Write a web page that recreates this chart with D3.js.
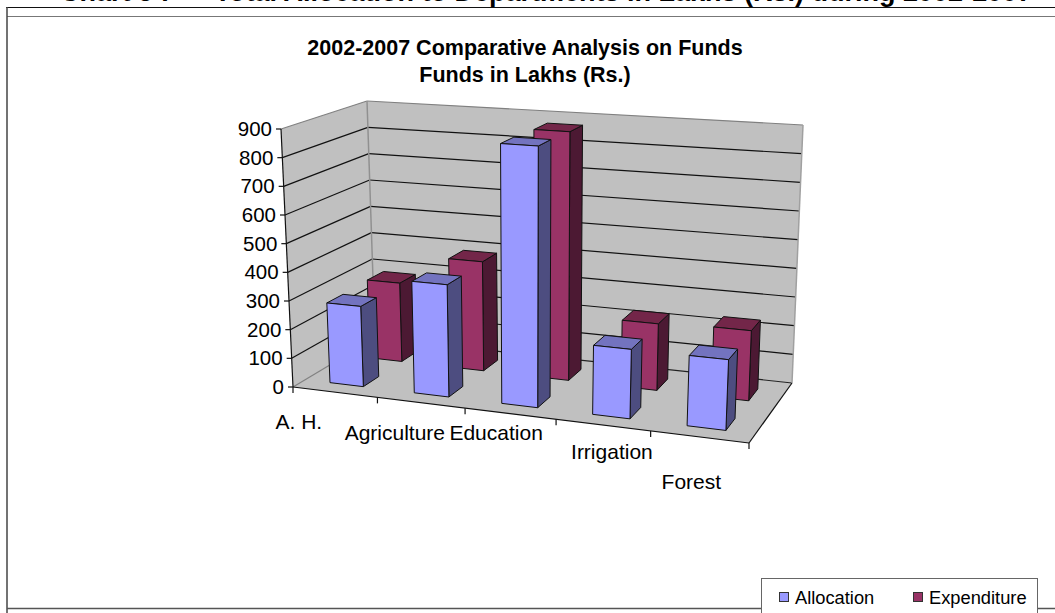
<!DOCTYPE html>
<html><head><meta charset="utf-8">
<script src="https://cdn.jsdelivr.net/npm/d3@7"></script>
<style>html,body{margin:0;padding:0;background:#fff;overflow:hidden}svg{display:block}text{font-family:"Liberation Sans",Arial,sans-serif;fill:#000}</style>
</head><body><svg id="c" width="1055" height="613"></svg>
<script>
const categories = ["A. H.", "Agriculture", "Education", "Irrigation", "Forest"];
const seriesNames = ["Allocation", "Expenditure"];
const allocation = [280, 385, 882, 230, 230];
const expenditure = [285, 390, 875, 230, 238];
const valueTicks = [0,100,200,300,400,500,600,700,800,900];
const titleLines = ["2002-2007 Comparative Analysis on Funds", "Funds in Lakhs (Rs.)"];
const pageHeadingParts = ["Chart 5 :", "Total Allocation to Departments in Lakhs (Rs.) during 2002-2007"];

// Projection corners of the 3D box
const box = {
  fl0:[293,387], fl1:[281,129], bl0:[375,338], bl1:[367,101],
  br0:[792,383], br1:[803,125], fr0:[749,443], fr1:[761,161]
};
const persp = 1.1;
const X = d3.scaleBand().domain(categories).range([0,1]).paddingInner(0.6).paddingOuter(0.3);
const D = d3.scaleBand().domain(seriesNames).range([0,1]).paddingInner(0.6).paddingOuter(0.3);
const V = d3.scaleLinear().domain([0,900]).range([0,1]);
const warp = x => x/(x+(1-x)*persp);
const mix = (a,b,t)=>[a[0]+(b[0]-a[0])*t, a[1]+(b[1]-a[1])*t];
function P(x,d,h){
  const u = warp(x);
  const f0 = mix(box.fl0,box.fr0,u), f1 = mix(box.fl1,box.fr1,u);
  const b0 = mix(box.bl0,box.br0,u), b1 = mix(box.bl1,box.br1,u);
  return mix(mix(f0,b0,d), mix(f1,b1,d), h);
}
const line = d3.line();
const svg = d3.select("#c");
const poly = (pts,fill,stroke,sw)=>svg.append("path").attr("d",line(pts)+"Z").attr("fill",fill).attr("stroke",stroke||"none").attr("stroke-width",sw||1).attr("stroke-linejoin","round");
const seg = (a,b,stroke,sw)=>svg.append("path").attr("d",line([a,b])).attr("fill","none").attr("stroke",stroke).attr("stroke-width",sw||1.2);

// page frame
const hd = svg.append("text").attr("x",60).attr("y",0.5).attr("font-size",27).attr("font-weight","bold");
hd.append("tspan").text(pageHeadingParts[0]);
hd.append("tspan").attr("dx",45).text(pageHeadingParts[1]);
seg([6,7.5],[1055,7.5],"#111",1);
seg([7,16.5],[1055,16.5],"#777",1);
seg([7,7],[7,613],"#444",1.5);
seg([7,608.5],[1055,608.5],"#555",1.5);

// titles
svg.selectAll("text.t").data(titleLines).join("text").attr("class","t")
  .attr("x",525).attr("y",(d,i)=>55+i*27).attr("text-anchor","middle").attr("font-size",21.5).attr("font-weight","bold").text(d=>d);

// walls and floor
poly([P(0,0,0),P(0,1,0),P(0,1,1),P(0,0,1)],"#c0c0c0");
poly([P(0,1,0),P(1,1,0),P(1,1,1),P(0,1,1)],"#c0c0c0");
poly([P(0,0,0),P(1,0,0),P(1,1,0),P(0,1,0)],"#c0c0c0");

// gridlines
valueTicks.forEach(t=>{
  const h = V(t);
  const c = t===900 ? "#808080" : "#111";
  if(t>0){
    seg(P(0,0,h),P(0,1,h),c);
    seg(P(0,1,h),P(1,1,h),c);
  }
});
seg(P(0,0,0),P(0,1,0),"#808080");
seg(P(0,1,0),P(1,1,0),"#222");
seg(P(0,1,0),P(0,1,1),"#909090",1.5);
seg(P(1,1,0),P(1,1,1),"#a0a0a0",1.5);
seg(P(1,0,0),P(1,1,0),"#111");
seg(P(0,0,0),P(1,0,0),"#111");

// value axis
seg(P(0,0,0),P(0,0,1),"#111");
valueTicks.forEach(t=>{
  const p = P(0,0,V(t));
  seg([p[0]-5,p[1]],p,"#111");
  svg.append("text").attr("x",p[0]-9).attr("y",p[1]+7).attr("text-anchor","end").attr("font-size",20.5).text(t);
});

// category ticks
d3.range(0,categories.length+1).forEach(i=>{
  const p = P(i/categories.length,0,0);
  seg(p,[p[0],p[1]+6],"#111");
});
// bars: back row first
const rows = [[seriesNames[1],expenditure,"#993366","#732649","#4c1933"],
              [seriesNames[0],allocation,"#9999ff","#7373bf","#4d4d80"]];
rows.forEach(([name,vals,front,top,side])=>{
  categories.forEach((c,i)=>{
    const x0=X(c), x1=x0+X.bandwidth(), d0=D(name), d1=d0+D.bandwidth(), h=V(vals[i]);
    poly([P(x1,d0,0),P(x1,d1,0),P(x1,d1,h),P(x1,d0,h)],side,"#111");
    poly([P(x0,d0,h),P(x1,d0,h),P(x1,d1,h),P(x0,d1,h)],top,"#111");
    poly([P(x0,d0,0),P(x1,d0,0),P(x1,d0,h),P(x0,d0,h)],front,"#111");
  });
});

// category labels
const labelShift = [[-36,37],[-26,37],[-14,26],[9,34],[-8,52]];
categories.forEach((c,i)=>{
  const p = P(X(c)+X.bandwidth()/2,0,0);
  svg.append("text").attr("x",p[0]+labelShift[i][0]).attr("y",p[1]+labelShift[i][1]).attr("text-anchor","middle").attr("font-size",21).text(c);
});

// legend
const lg = svg.append("g");
lg.append("rect").attr("x",761.5).attr("y",578.5).attr("width",276).attr("height",50).attr("fill","#fff").attr("stroke","#666");
const lx = d3.scaleOrdinal().domain(seriesNames).range([779,913]);
const lc = d3.scaleOrdinal().domain(seriesNames).range(["#9999ff","#993366"]);
seriesNames.forEach(n=>{
  lg.append("rect").attr("x",lx(n)+.5).attr("y",592.5).attr("width",9).attr("height",9).attr("fill",lc(n)).attr("stroke","#333");
  lg.append("text").attr("x",lx(n)+16).attr("y",604).attr("font-size",18.3).text(n);
});
</script></body></html>
